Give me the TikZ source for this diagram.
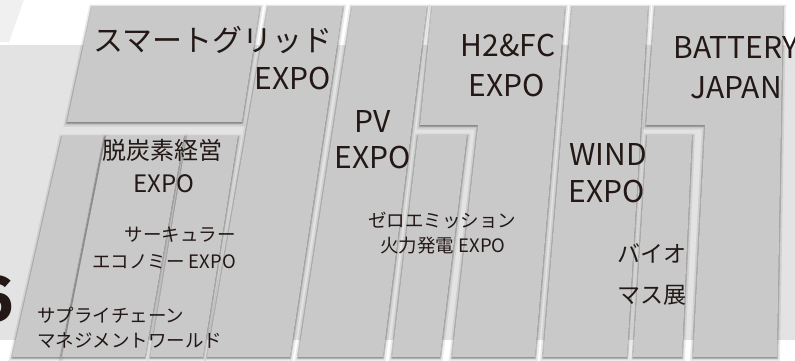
\documentclass[tikz,border=0pt]{standalone}
\usepackage{fontspec}
\setmainfont{Noto Sans CJK JP}
\usepackage{xcolor}
\usetikzlibrary{shadows}
\definecolor{panelgray}{RGB}{201,201,201}
\definecolor{bandgray}{RGB}{227,227,227}
\definecolor{inkblack}{RGB}{35,24,21}
\newcommand{\fsz}[1]{\fontsize{#1}{#1}\selectfont}

\begin{document}
\begin{tikzpicture}[x=1pt, y=-1pt,
    panel/.style={fill=panelgray,
      general shadow={fill=black, draw=black, line width=6pt, opacity=.08, shadow yshift=-1.5pt},
      general shadow={fill=black, draw=black, line width=2.5pt, opacity=.18, shadow yshift=-1pt}},
    big/.style={font=\fsz{30}, text=inkblack, inner sep=0pt, anchor=base},
    mid/.style={font=\fsz{24}, text=inkblack, inner sep=0pt, anchor=base},
    small/.style={font=\fsz{18.5}, text=inkblack, inner sep=0pt, anchor=base}]
    \useasboundingbox (0,0) rectangle (795,360);

    % Background band
    \fill[white] (0,0) rectangle (795,360);
    \fill[bandgray] (0,45) rectangle (795,340);
    \fill[black!6] (0,42) -- (9,42) -- (24,0) -- (0,0) -- cycle;
    \fill[white] (10,42) -- (16,42) -- (30,0) -- (24,0) -- cycle;

    % Top-left block
    \path[panel] (92,6) -- (260,6) -- (242,122) -- (67,122) -- cycle;

    % Lower-left strips
    \path[panel] (62,136) -- (104,136) -- (60,357) -- (12,357) -- cycle;
    \path[panel] (106,136) -- (184,136) -- (145,357) -- (62,357) -- cycle;
    \path[panel] (187,136) -- (238,136) -- (203,357) -- (150,357) -- cycle;

    % Tall columns
    \path[panel] (268,6) -- (343,6) -- (290,357) -- (207,357) -- cycle;
    \path[panel] (352,6) -- (427,6) -- (383,357) -- (298,357) -- cycle;
    \path[panel] (418,135) -- (467,135) -- (440,357) -- (392,357) -- cycle;
    \path[panel] (432,6) -- (565,6) -- (535,357) -- (452,357) -- (478,125) -- (420,125) -- cycle;
    \path[panel] (572,6) -- (648,6) -- (627,357) -- (543,357) -- cycle;
    \path[panel] (647,135) -- (692,135) -- (682,357) -- (633,357) -- cycle;
    \path[panel] (655,6) -- (783,6) -- (777,357) -- (693,357) -- (705,125) -- (646,125) -- cycle;

    % Labels
    \node[big] (sg) at (213,51) {スマートグリッド};
    \node[big] (sgexpo) at (293,89) {EXPO};
    \node[big] (pv) at (373,132) {PV};
    \node[big] (pvexpo) at (373,168) {EXPO};
    \node[big] (hfc) at (508,56) {H2\&FC};
    \node[big] (hfcexpo) at (507,96) {EXPO};
    \node[big] (wind) at (608,165) {WIND};
    \node[big] (windexpo) at (607,202) {EXPO};
    \node[big] (bat) at (736,58) {BATTERY};
    \node[big] (batjp) at (736,98) {JAPAN};
    \node[mid] (dc) at (162,159) {脱炭素経営};
    \node[mid] (dcexpo) at (164,192) {EXPO};
    \node[small, anchor=base east] (ce1) at (236,241) {サーキュラー};
    \node[small, anchor=base east] (ce2) at (236,268) {エコノミー EXPO};
    \node[small, anchor=base west] (sc1) at (37,322) {サプライチェーン};
    \node[small, anchor=base west] (sc2) at (37,347) {マネジメントワールド};
    \node[small] (ze1) at (442,227) {ゼロエミッション};
    \node[small] (ze2) at (443,252) {火力発電 EXPO};
    \node[mid, font=\fsz{23}] (bio1) at (652,262) {バイオ};
    \node[mid, font=\fsz{23}] (bio2) at (652,303) {マス展};
    \node[anchor=base east, font=\fsz{62}\bfseries, text=inkblack, inner sep=0pt] (num) at (14,321) {6};
\end{tikzpicture}
\end{document}
